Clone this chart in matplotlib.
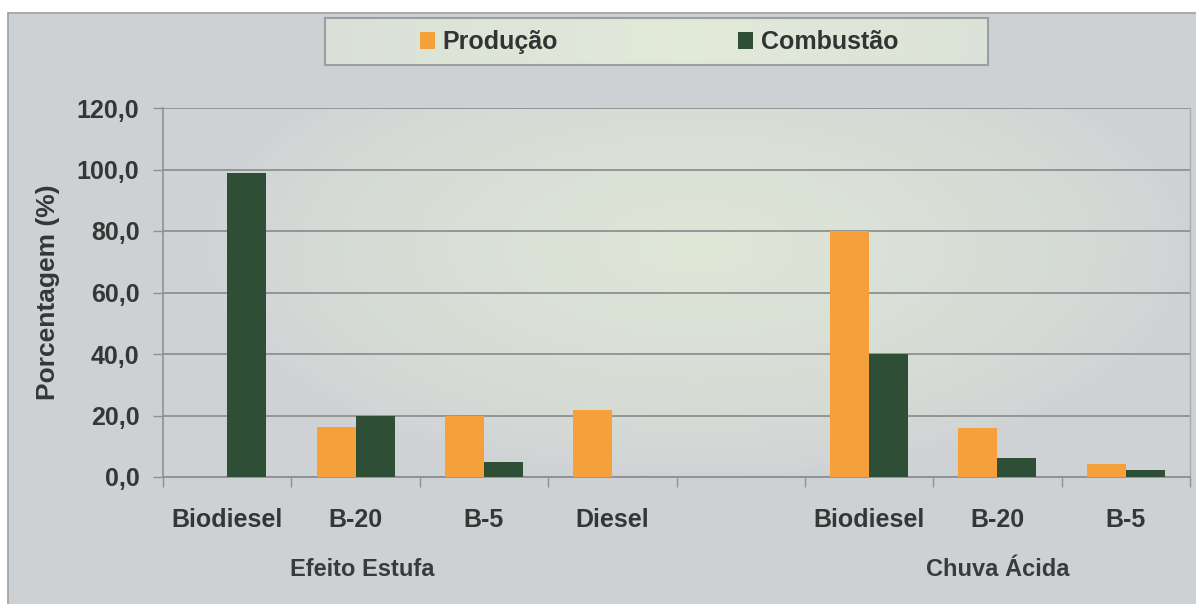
import matplotlib
matplotlib.use("Agg")
import matplotlib.pyplot as plt
import numpy as np
from matplotlib.patches import Rectangle, Patch
import matplotlib.transforms as mtransforms

# ---------------- data ----------------
categories = ["Biodiesel", "B-20", "B-5", "Diesel", "", "Biodiesel", "B-20", "B-5"]
series_names = ["Produção", "Combustão"]
producao = [0.0, 16.3, 20.0, 21.8, 0.0, 80.0, 16.0, 4.2]
combustao = [99.0, 20.0, 5.0, 0.0, 0.0, 40.0, 6.3, 2.3]
group_labels = ["Efeito Estufa", "Chuva Ácida"]
group_anchor_category = [1, 6]
yticks = [0, 20, 40, 60, 80, 100, 120]
ytick_labels = ["0,0", "20,0", "40,0", "60,0", "80,0", "100,0", "120,0"]
y_label = "Porcentagem (%)"

# ---------------- style ----------------
W, H = 1196, 604
ORANGE = "#f6a03b"
GREEN = "#2e4e36"
PANEL = "#cdd1d4"
TXT = "#363636"
GRID = "#8e9092"
FONT = "Liberation Sans"
plt.rcParams["font.family"] = [FONT, "DejaVu Sans"]

fig = plt.figure(figsize=(W / 100, H / 100), dpi=100)
fig.patch.set_facecolor("white")

# outer grey panel
panel = Rectangle((8 / W, -0.01), 1.0, 1 - 13 / H + 0.01, transform=fig.transFigure,
                  facecolor=PANEL, edgecolor="#a2a6a9", lw=1.3, zorder=-10)
fig.patches.append(panel)

ax_pos = [163 / W, 1 - 477 / H, (1190 - 163) / W, (477 - 108) / H]

# gradient background of plot area
bg = fig.add_axes(ax_pos, zorder=0)
nx, ny = 400, 200
u = np.linspace(0, 1, nx)[None, :]
v = np.linspace(0, 1, ny)[:, None]
d = np.sqrt(((u - 0.52) / 0.48) ** 2 + ((v - 0.62) / 0.62) ** 2)
t = np.clip(1 - d, 0, 1) ** 0.7
gray = np.array([0.812, 0.827, 0.838])
light = np.array([0.875, 0.905, 0.840])
img = gray[None, None, :] * (1 - t[..., None]) + light[None, None, :] * t[..., None]
bg.imshow(img, extent=[0, 1, 0, 1], origin="lower", aspect="auto", interpolation="bilinear")
bg.axis("off")

ax = fig.add_axes(ax_pos, zorder=1)
ax.set_facecolor("none")

x = np.arange(len(categories))
w = 0.304
ax.bar(x - w / 2, producao, w, color=ORANGE, linewidth=0, zorder=3)
ax.bar(x + w / 2, combustao, w, color=GREEN, linewidth=0, zorder=3)

ax.set_xlim(-0.5, len(categories) - 0.5)
ax.set_ylim(0, 120)
ax.set_axisbelow(True)
ax.set_yticks(yticks)
ax.set_yticklabels(ytick_labels)
ax.yaxis.grid(True, color=GRID, lw=1.3)
ax.tick_params(axis="y", length=7, width=1, color=GRID, pad=10,
               labelsize=18, labelcolor=TXT)
for lab in ax.get_yticklabels():
    lab.set_fontweight("bold")

ax.set_xticks(np.arange(-0.5, len(categories), 1.0))
ax.set_xticklabels([])
ax.tick_params(axis="x", which="major", length=7, width=1, color=GRID)
ax.set_xticks(x, minor=True)
ax.set_xticklabels(categories, minor=True)
ax.tick_params(axis="x", which="minor", length=0, pad=22, labelsize=18, labelcolor=TXT)
for lab in ax.get_xticklabels(minor=True):
    lab.set_fontweight("bold")

for s in ["top"]:
    ax.spines[s].set_visible(False)
ax.spines["left"].set_color(GRID)
ax.spines["bottom"].set_color(GRID)
ax.spines["right"].set_color("#a9adb0")
ax.spines["left"].set_linewidth(1.2)
ax.spines["bottom"].set_linewidth(1.3)
ax.spines["right"].set_linewidth(1.0)

# group labels
trans = mtransforms.blended_transform_factory(ax.transData, fig.transFigure)
for lbl, idx in zip(group_labels, group_anchor_category):
    ax.text(idx + 0.05 if idx == 1 else idx, 1 - 576.5 / H, lbl, transform=trans,
            ha="center", va="baseline", fontsize=17, fontweight="bold", color="#3a3a3a")

# y label
fig.text(48 / W, 1 - 292 / H, y_label, rotation=90, ha="center", va="center",
         fontsize=19, fontweight="bold", color=TXT)

# legend box with gradient
lg_pos = [325 / W, 1 - 65 / H, (988 - 325) / W, (65 - 18) / H]
lax = fig.add_axes(lg_pos, zorder=2)
lu = np.linspace(0, 1, 300)[None, :]
lv = np.linspace(0, 1, 30)[:, None]
lt = np.clip(1 - np.abs(lu - 0.55) / 0.75, 0, 1) ** 0.6 * (0.85 + 0.15 * np.ones_like(lv))
lgray = np.array([0.83, 0.85, 0.84])
llight = np.array([0.885, 0.915, 0.850])
limg = lgray[None, None, :] * (1 - lt[..., None]) + llight[None, None, :] * lt[..., None]
lax.imshow(limg, extent=[0, 1, 0, 1], origin="lower", aspect="auto", interpolation="bilinear")
lax.set_xticks([])
lax.set_yticks([])
for s in lax.spines.values():
    s.set_color("#9c9fa2")
    s.set_linewidth(1.5)

handles = [Patch(facecolor=ORANGE, edgecolor="none"), Patch(facecolor=GREEN, edgecolor="none")]
leg = fig.legend(handles, series_names, loc="center", bbox_to_anchor=(659 / W, 1 - 42 / H),
                 ncol=2, frameon=False, prop={"family": FONT, "size": 18, "weight": "bold"},
                 handlelength=0.6, handleheight=0.7, handletextpad=0.32, columnspacing=7.2,
                 borderpad=0, borderaxespad=0)
leg.set_zorder(5)
for txt in leg.get_texts():
    txt.set_color("#333333")

fig.savefig("out.png", dpi=100, facecolor="white")
